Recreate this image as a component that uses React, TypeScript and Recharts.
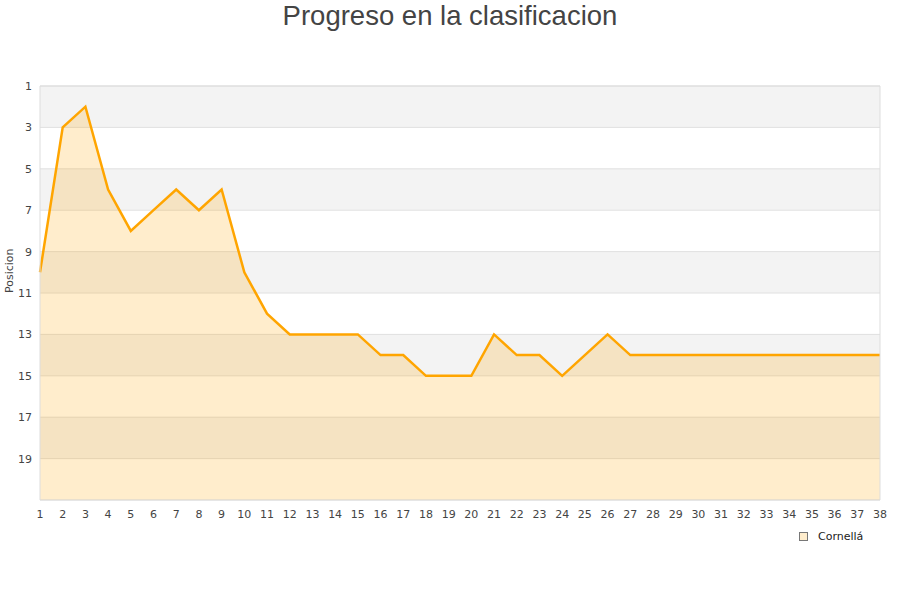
import React from 'react';
import { ComposedChart, Area, XAxis, YAxis, CartesianGrid, ReferenceArea } from 'recharts';

const jornadas = [1,2,3,4,5,6,7,8,9,10,11,12,13,14,15,16,17,18,19,20,21,22,23,24,25,26,27,28,29,30,31,32,33,34,35,36,37,38];
const posiciones = [10,3,2,6,8,7,6,7,6,10,12,13,13,13,13,14,14,15,15,15,13,14,14,15,14,13,14,14,14,14,14,14,14,14,14,14,14,14];
const yTicks = [1,3,5,7,9,11,13,15,17,19];
const seriesName = 'Cornellá';

const data = jornadas.map((j, i) => ({ jornada: j, pos: posiciones[i] }));

const tickStyle = { fontFamily: 'DejaVu Sans', fontSize: 11, fill: '#444' };

export default function App() {
  return (
    <div style={{ position: 'absolute', left: 0, top: 0, width: 900, height: 600, background: '#fff' }}>
      <div style={{ position: 'absolute', left: 0, top: 0, width: 900, textAlign: 'center', fontFamily: 'Liberation Sans, Arial, sans-serif', fontSize: 27.5, color: '#444', lineHeight: '32px' }}>
        Progreso en la clasificacion
      </div>
      <ComposedChart width={900} height={600} data={data} margin={{ top: 86, right: 20, left: 0, bottom: 70 }}>
        <CartesianGrid vertical={false} stroke="#e0e0e0" horizontalFill={['#f3f3f3', '#ffffff']} fillOpacity={1} />
        <XAxis dataKey="jornada" type="number" domain={[1, 38]} ticks={jornadas} interval={0} height={30} tickMargin={4} tickLine={false} axisLine={false} tick={tickStyle} />
        <YAxis type="number" domain={[1, 21]} reversed ticks={yTicks} interval={0} width={40} tickLine={false} axisLine={false} tick={tickStyle}
          label={{ value: 'Posicion', angle: -90, position: 'insideLeft', dx: 4, style: { fontFamily: 'DejaVu Sans', fontSize: 11, fill: '#444' } }} />
        <Area type="linear" dataKey="pos" name={seriesName} baseValue={21} stroke="#FFA500" strokeWidth={2.5} fill="#FFA500" fillOpacity={0.2} dot={false} activeDot={false} isAnimationActive={false} />
        <ReferenceArea x1={1} x2={38} y1={1} y2={21} fill="none" stroke="#dddddd" strokeWidth={1} ifOverflow="visible" />
      </ComposedChart>
      <div style={{ position: 'absolute', left: 799, top: 530, display: 'flex', alignItems: 'center', fontFamily: 'DejaVu Sans', fontSize: 11, color: '#222' }}>
        <span style={{ display: 'inline-block', width: 7, height: 7, background: '#FFEDCC', border: '1px solid #777', marginRight: 10 }} />
        <span>{seriesName}</span>
      </div>
    </div>
  );
}
